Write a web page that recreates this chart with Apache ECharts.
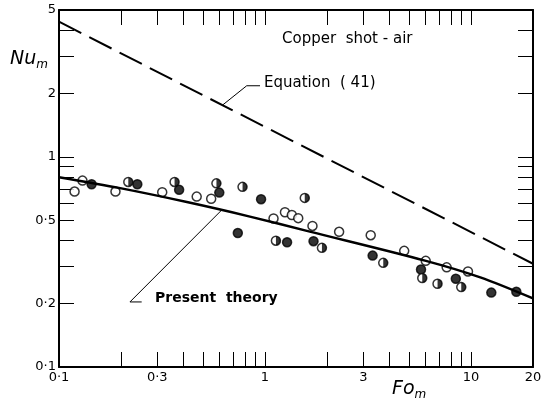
<!DOCTYPE html>
<html>
<head>
<meta charset="utf-8">
<script src="https://cdn.jsdelivr.net/npm/echarts@6/dist/echarts.min.js"></script>
<style>
  html, body { margin: 0; padding: 0; background: #fff; }
  #chart { width: 549px; height: 404px; }
</style>
</head>
<body>
<div id="chart"></div>
<script>
// [Fo_m, Nu_m]
const openPoints = [
  [0.119, 0.684], [0.130, 0.771], [0.188, 0.684], [0.317, 0.679], [0.466, 0.647],
  [0.548, 0.632], [1.10, 0.509], [1.25, 0.545], [1.35, 0.529], [1.45, 0.511],
  [1.70, 0.469], [2.29, 0.440], [3.26, 0.424], [4.74, 0.357], [6.03, 0.320],
  [7.62, 0.298], [9.67, 0.285]
];
const filledPoints = [
  [0.144, 0.741], [0.240, 0.741], [0.383, 0.697], [0.600, 0.676], [0.738, 0.434],
  [0.957, 0.629], [1.28, 0.392], [1.72, 0.397], [3.33, 0.339], [5.72, 0.291],
  [8.44, 0.263], [12.55, 0.226], [16.6, 0.228]
];
const halfPoints = [
  [0.217, 0.760], [0.364, 0.760], [0.581, 0.748], [0.778, 0.720], [1.13, 0.399],
  [1.56, 0.638], [1.89, 0.369], [3.75, 0.313], [5.80, 0.265], [6.88, 0.249],
  [8.97, 0.240]
];
const theoryCurve = [
  [0.1, 0.80], [0.198, 0.71], [0.423, 0.608], [0.845, 0.52], [1.65, 0.441],
  [5.98, 0.321], [11.1, 0.267], [20, 0.212]
];
const equation41 = [[0.1, 4.4], [20, 0.31]];
const equationLeader = [[0.625, 1.77], [0.815, 2.18], [0.946, 2.18]];
const theoryLeader = [[0.618, 0.560], [0.221, 0.204], [0.252, 0.204]];

const xTickValues = [0.2, 0.3, 0.4, 0.5, 0.6, 0.7, 0.8, 0.9, 1, 2, 3, 4, 5, 6, 7, 8, 9, 10];
const yTickValues = [0.2, 0.3, 0.4, 0.5, 0.6, 0.7, 0.8, 0.9, 1, 2, 3, 4];
const xLabelValues = [0.1, 0.3, 1, 3, 10, 20];
const xLabelTexts = ['0·1', '0·3', '1', '3', '10', '20'];
const yLabelValues = [0.1, 0.2, 0.5, 1, 2, 5];
const yLabelTexts = ['0·1', '0·2', '0·5', '1', '2', '5'];

const FONT = 'DejaVu Sans';

function pick(values, texts) {
  return (v) => {
    const i = values.findIndex(t => Math.abs(t - v) / t < 1e-6);
    return i >= 0 ? texts[i] : '';
  };
}

const axisLine = { show: true, onZero: false, lineStyle: { color: '#000', width: 2 } };
function tick(vals) {
  return { show: true, inside: true, length: 15, customValues: vals, lineStyle: { color: '#000', width: 1 } };
}

const chart = echarts.init(document.getElementById('chart'));
chart.setOption({
  animation: false,
  grid: { left: 59, right: 16, top: 10, bottom: 37 },
  xAxis: [
    {
      type: 'log', logBase: 10, min: 0.1, max: 20, position: 'bottom',
      axisLine: axisLine, axisTick: tick(xTickValues), splitLine: { show: false },
      minorTick: { show: false },
      axisLabel: {
        customValues: xLabelValues, formatter: pick(xLabelValues, xLabelTexts),
        color: '#000', fontFamily: FONT, fontSize: 13, margin: 4
      }
    },
    {
      type: 'log', logBase: 10, min: 0.1, max: 20, position: 'top',
      axisLine: axisLine, axisTick: tick(xTickValues), splitLine: { show: false },
      axisLabel: { show: false }
    }
  ],
  yAxis: [
    {
      type: 'log', logBase: 10, min: 0.1, max: 5, position: 'left',
      axisLine: axisLine, axisTick: tick(yTickValues), splitLine: { show: false },
      axisLabel: {
        customValues: yLabelValues, formatter: pick(yLabelValues, yLabelTexts),
        color: '#000', fontFamily: FONT, fontSize: 13, margin: 3
      }
    },
    {
      type: 'log', logBase: 10, min: 0.1, max: 5, position: 'right',
      axisLine: axisLine, axisTick: tick(yTickValues), splitLine: { show: false },
      axisLabel: { show: false }
    }
  ],
  series: [
    {
      type: 'line', data: equation41, showSymbol: false, silent: true,
      lineStyle: { color: '#000', width: 2, type: [25, 9] }
    },
    {
      type: 'line', data: theoryCurve, smooth: 0.3, showSymbol: false, silent: true,
      lineStyle: { color: '#000', width: 2.4 }
    },
    {
      type: 'line', data: equationLeader, showSymbol: false, silent: true,
      lineStyle: { color: '#000', width: 1 }
    },
    {
      type: 'line', data: theoryLeader, showSymbol: false, silent: true,
      lineStyle: { color: '#000', width: 1 }
    },
    {
      type: 'scatter', data: openPoints, symbol: 'circle', symbolSize: 9,
      itemStyle: { color: '#fff', borderColor: '#000', borderWidth: 1.5 }
    },
    {
      type: 'scatter', data: filledPoints, symbol: 'circle', symbolSize: 9,
      itemStyle: { color: '#000', borderColor: '#000', borderWidth: 1.5 }
    },
    {
      type: 'scatter', data: halfPoints, symbol: 'circle', symbolSize: 9,
      itemStyle: { color: '#fff', borderColor: '#000', borderWidth: 1.5 }
    },
    {
      type: 'scatter', data: halfPoints, symbol: 'path://M0,-1A1,1,0,0,1,0,1Z',
      symbolSize: 9, symbolKeepAspect: true, symbolOffset: ['25%', 0],
      itemStyle: { color: '#000', borderWidth: 0 }
    }
  ],
  graphic: [
    {
      type: 'text', left: 10, top: 50,
      style: {
        text: '{a|Nu}{b|m}', fill: '#000',
        rich: {
          a: { fontFamily: FONT, fontSize: 19, fontStyle: 'italic' },
          b: { fontFamily: FONT, fontSize: 12, fontStyle: 'italic', padding: [10, 0, 0, 0] }
        }
      }
    },
    {
      type: 'text', left: 392, top: 380,
      style: {
        text: '{a|Fo}{b|m}', fill: '#000',
        rich: {
          a: { fontFamily: FONT, fontSize: 19, fontStyle: 'italic' },
          b: { fontFamily: FONT, fontSize: 12, fontStyle: 'italic', padding: [10, 0, 0, 0] }
        }
      }
    },
    {
      type: 'text', left: 282, top: 32,
      style: { text: 'Copper  shot - air', fill: '#000', font: '15px "DejaVu Sans"' }
    },
    {
      type: 'text', left: 264, top: 76,
      style: { text: 'Equation  ( 41)', fill: '#000', font: '15px "DejaVu Sans"' }
    },
    {
      type: 'text', left: 155, top: 291,
      style: { text: 'Present  theory', fill: '#000', font: 'bold 14px "DejaVu Sans"' }
    }
  ]
});
</script>
</body>
</html>
